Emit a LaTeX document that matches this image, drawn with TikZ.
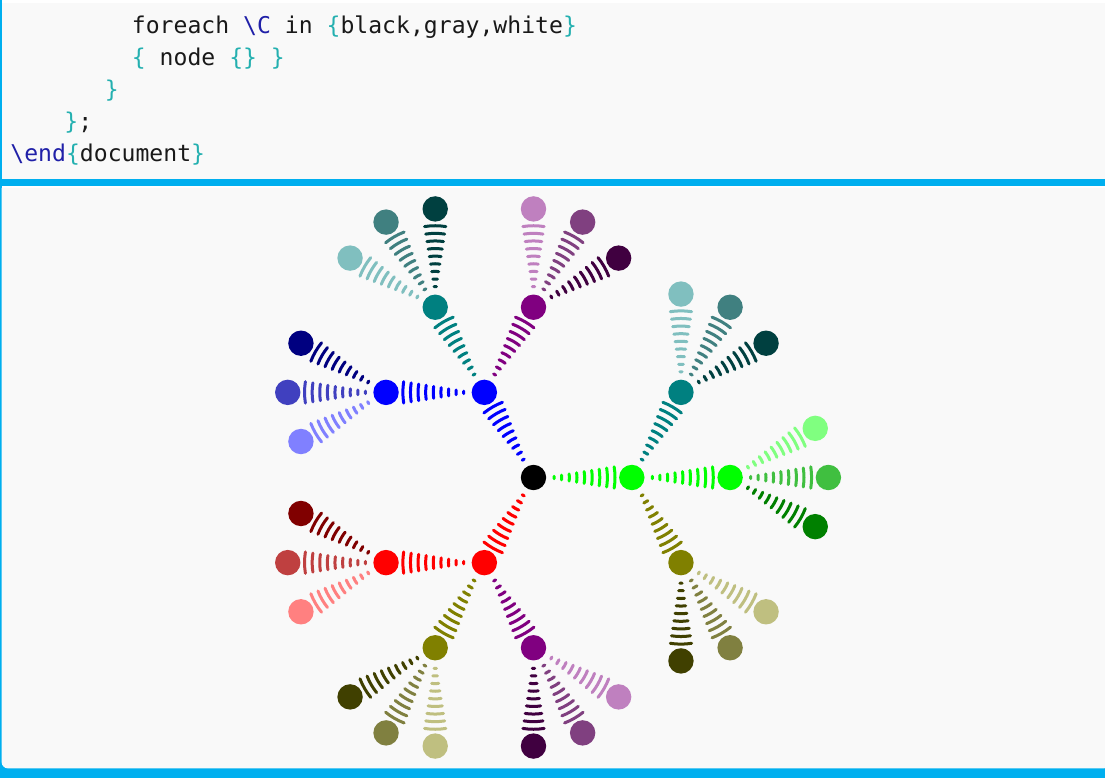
\documentclass[tikz,border=0pt]{standalone}
\usepackage{fontspec}
\setmonofont{DejaVu Sans Mono}
\usetikzlibrary{calc,decorations.pathreplacing,decorations.shapes}
\definecolor{bgc}{RGB}{249,249,249}
\definecolor{framec}{RGB}{0,175,239}
\definecolor{kwc}{RGB}{32,32,168}
\definecolor{brc}{RGB}{36,176,176}
\definecolor{txc}{RGB}{25,25,25}
\newcommand{\Lb}{{\color{brc}\{}}
\newcommand{\Rb}{{\color{brc}\}}}
\begin{document}
\begin{tikzpicture}[x=0.5pt,y=0.5pt,
  dot/.style={circle,inner sep=0pt,minimum size=12.7pt,draw=none},
  wave/.style={decorate,decoration={expanding waves,angle=9,segment length=3.8pt},line width=1.5pt,line cap=round},
  codeline/.style={anchor=base west,inner sep=0pt,font=\ttfamily\fontsize{11.55pt}{13pt}\selectfont,text=txc}]
\useasboundingbox (0,0) rectangle (1105,778);
\clip (0,0) rectangle (1105,778);
% frame
\fill[bgc] (0,0) rectangle (1105,778);
\fill[white] (1.7,774.7) rectangle (1105,778);
\fill[framec] (0,0) rectangle (1105,598.7);
\fill[white] (1.7,590) rectangle (1105,592);
\fill[bgc] (1110,590) -- (1.7,590) {[rounded corners=3] -- (1.7,9.7) -- (1110,9.7)} -- cycle;
\fill[framec] (0,592) rectangle (1.7,778);
% code
\node[codeline] (l1) at (131.5,744) {foreach {\color{kwc}\textbackslash C} in \Lb black,gray,white\Rb};
\node[codeline] (l2) at (131.5,712) {\Lb{} node \Lb\Rb{} \Rb};
\node[codeline] (l3) at (104.5,680) {\Rb};
\node[codeline] (l4) at (64,648) {\Rb;};
\node[codeline] (l5) at (10,616) {{\color{kwc}\textbackslash end}\Lb document\Rb};
% tree
\def\dd{98.3}
\node[dot,fill=black] (root) at (533.5,300.5) {};
\foreach \A/\a [count=\i] in {red/240,green/0,blue/120} {
  \node[dot,fill=\A] (n\i) at ([shift={(\a:\dd)}]root) {};
  \draw[wave,color=\A] (root) -- (n\i);
  \foreach \B/\db [count=\j] in {red/-60,green/0,blue/60} {
    \pgfmathsetmacro\bb{\a+\db}
    \node[dot,fill=\A!50!\B] (n\i\j) at ([shift={(\bb:\dd)}]n\i) {};
    \draw[wave,color=\A!50!\B] (n\i) -- (n\i\j);
    \foreach \C/\dc [count=\k] in {black/-30,gray/0,white/30} {
      \pgfmathsetmacro\cc{\bb+\dc}
      \node[dot,fill=\A!50!\B!50!\C] (n\i\j\k) at ([shift={(\cc:\dd)}]n\i\j) {};
      \draw[wave,color=\A!50!\B!50!\C] (n\i\j) -- (n\i\j\k);
    }
  }
}
\end{tikzpicture}
\end{document}
